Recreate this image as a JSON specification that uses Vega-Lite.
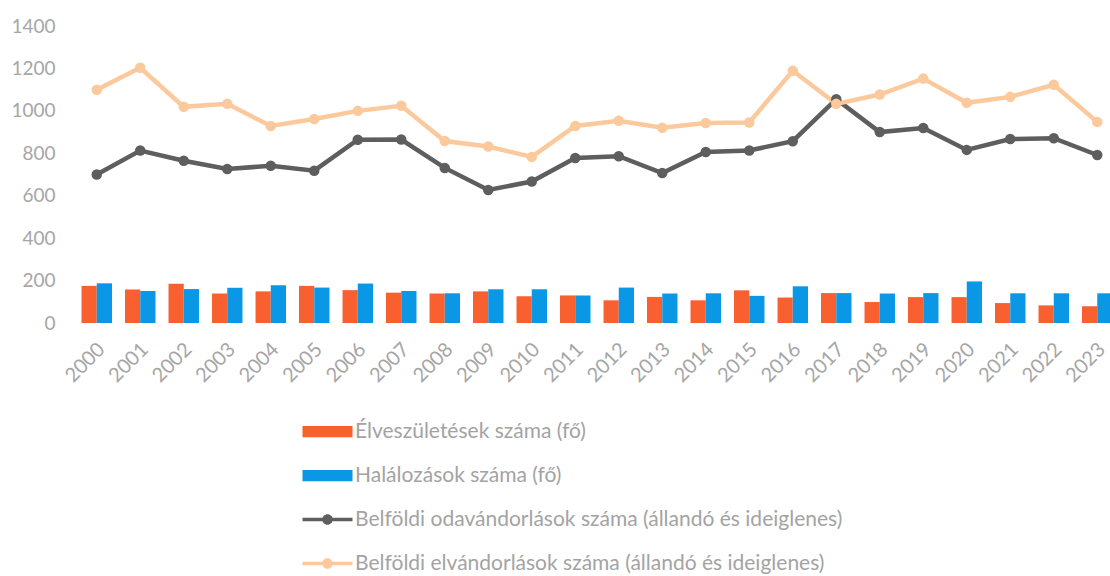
{
  "$schema": "https://vega.github.io/schema/vega-lite/v6.json",
  "autosize": {"type": "none"},
  "padding": {"left": 75, "top": 26, "right": 0, "bottom": 253},
  "width": 1044,
  "height": 297,
  "background": "white",
  "config": {
    "view": {"stroke": null},
    "font": "Lato",
    "axis": {"grid": false, "domain": false, "ticks": false, "labelColor": "#A6A6A6", "labelFont": "Lato", "title": null}
  },
  "datasets": {
    "bars": [
      {"year": "2000", "series": "Élveszületések száma (fő)", "value": 175},
      {"year": "2000", "series": "Halálozások száma (fő)", "value": 187},
      {"year": "2001", "series": "Élveszületések száma (fő)", "value": 158},
      {"year": "2001", "series": "Halálozások száma (fő)", "value": 151},
      {"year": "2002", "series": "Élveszületések száma (fő)", "value": 185},
      {"year": "2002", "series": "Halálozások száma (fő)", "value": 160},
      {"year": "2003", "series": "Élveszületések száma (fő)", "value": 139},
      {"year": "2003", "series": "Halálozások száma (fő)", "value": 166},
      {"year": "2004", "series": "Élveszületések száma (fő)", "value": 149},
      {"year": "2004", "series": "Halálozások száma (fő)", "value": 178},
      {"year": "2005", "series": "Élveszületések száma (fő)", "value": 175},
      {"year": "2005", "series": "Halálozások száma (fő)", "value": 167},
      {"year": "2006", "series": "Élveszületések száma (fő)", "value": 155},
      {"year": "2006", "series": "Halálozások száma (fő)", "value": 186},
      {"year": "2007", "series": "Élveszületések száma (fő)", "value": 143},
      {"year": "2007", "series": "Halálozások száma (fő)", "value": 151},
      {"year": "2008", "series": "Élveszületések száma (fő)", "value": 139},
      {"year": "2008", "series": "Halálozások száma (fő)", "value": 140},
      {"year": "2009", "series": "Élveszületések száma (fő)", "value": 149},
      {"year": "2009", "series": "Halálozások száma (fő)", "value": 159},
      {"year": "2010", "series": "Élveszületések száma (fő)", "value": 126},
      {"year": "2010", "series": "Halálozások száma (fő)", "value": 159},
      {"year": "2011", "series": "Élveszületések száma (fő)", "value": 130},
      {"year": "2011", "series": "Halálozások száma (fő)", "value": 130},
      {"year": "2012", "series": "Élveszületések száma (fő)", "value": 107},
      {"year": "2012", "series": "Halálozások száma (fő)", "value": 167},
      {"year": "2013", "series": "Élveszületések száma (fő)", "value": 123},
      {"year": "2013", "series": "Halálozások száma (fő)", "value": 139},
      {"year": "2014", "series": "Élveszületések száma (fő)", "value": 107},
      {"year": "2014", "series": "Halálozások száma (fő)", "value": 140},
      {"year": "2015", "series": "Élveszületések száma (fő)", "value": 154},
      {"year": "2015", "series": "Halálozások száma (fő)", "value": 128},
      {"year": "2016", "series": "Élveszületések száma (fő)", "value": 120},
      {"year": "2016", "series": "Halálozások száma (fő)", "value": 173},
      {"year": "2017", "series": "Élveszületések száma (fő)", "value": 141},
      {"year": "2017", "series": "Halálozások száma (fő)", "value": 141},
      {"year": "2018", "series": "Élveszületések száma (fő)", "value": 99},
      {"year": "2018", "series": "Halálozások száma (fő)", "value": 139},
      {"year": "2019", "series": "Élveszületések száma (fő)", "value": 122},
      {"year": "2019", "series": "Halálozások száma (fő)", "value": 141},
      {"year": "2020", "series": "Élveszületések száma (fő)", "value": 122},
      {"year": "2020", "series": "Halálozások száma (fő)", "value": 196},
      {"year": "2021", "series": "Élveszületések száma (fő)", "value": 94},
      {"year": "2021", "series": "Halálozások száma (fő)", "value": 140},
      {"year": "2022", "series": "Élveszületések száma (fő)", "value": 83},
      {"year": "2022", "series": "Halálozások száma (fő)", "value": 140},
      {"year": "2023", "series": "Élveszületések száma (fő)", "value": 79},
      {"year": "2023", "series": "Halálozások száma (fő)", "value": 140}
    ],
    "lines": [
      {"year": "2000", "series": "Belföldi odavándorlások száma (állandó és ideiglenes)", "value": 700},
      {"year": "2001", "series": "Belföldi odavándorlások száma (állandó és ideiglenes)", "value": 813},
      {"year": "2002", "series": "Belföldi odavándorlások száma (állandó és ideiglenes)", "value": 765},
      {"year": "2003", "series": "Belföldi odavándorlások száma (állandó és ideiglenes)", "value": 726},
      {"year": "2004", "series": "Belföldi odavándorlások száma (állandó és ideiglenes)", "value": 741},
      {"year": "2005", "series": "Belföldi odavándorlások száma (állandó és ideiglenes)", "value": 718},
      {"year": "2006", "series": "Belföldi odavándorlások száma (állandó és ideiglenes)", "value": 864},
      {"year": "2007", "series": "Belföldi odavándorlások száma (állandó és ideiglenes)", "value": 865},
      {"year": "2008", "series": "Belföldi odavándorlások száma (állandó és ideiglenes)", "value": 731},
      {"year": "2009", "series": "Belföldi odavándorlások száma (állandó és ideiglenes)", "value": 627},
      {"year": "2010", "series": "Belföldi odavándorlások száma (állandó és ideiglenes)", "value": 667},
      {"year": "2011", "series": "Belföldi odavándorlások száma (állandó és ideiglenes)", "value": 778},
      {"year": "2012", "series": "Belföldi odavándorlások száma (állandó és ideiglenes)", "value": 786},
      {"year": "2013", "series": "Belföldi odavándorlások száma (állandó és ideiglenes)", "value": 707},
      {"year": "2014", "series": "Belföldi odavándorlások száma (állandó és ideiglenes)", "value": 806},
      {"year": "2015", "series": "Belföldi odavándorlások száma (állandó és ideiglenes)", "value": 813},
      {"year": "2016", "series": "Belföldi odavándorlások száma (állandó és ideiglenes)", "value": 857},
      {"year": "2017", "series": "Belföldi odavándorlások száma (állandó és ideiglenes)", "value": 1055},
      {"year": "2018", "series": "Belföldi odavándorlások száma (állandó és ideiglenes)", "value": 900},
      {"year": "2019", "series": "Belföldi odavándorlások száma (állandó és ideiglenes)", "value": 919},
      {"year": "2020", "series": "Belföldi odavándorlások száma (állandó és ideiglenes)", "value": 816},
      {"year": "2021", "series": "Belföldi odavándorlások száma (állandó és ideiglenes)", "value": 867},
      {"year": "2022", "series": "Belföldi odavándorlások száma (állandó és ideiglenes)", "value": 871},
      {"year": "2023", "series": "Belföldi odavándorlások száma (állandó és ideiglenes)", "value": 792},
      {"year": "2000", "series": "Belföldi elvándorlások száma (állandó és ideiglenes)", "value": 1099},
      {"year": "2001", "series": "Belföldi elvándorlások száma (állandó és ideiglenes)", "value": 1203},
      {"year": "2002", "series": "Belföldi elvándorlások száma (állandó és ideiglenes)", "value": 1019},
      {"year": "2003", "series": "Belföldi elvándorlások száma (állandó és ideiglenes)", "value": 1033},
      {"year": "2004", "series": "Belföldi elvándorlások száma (állandó és ideiglenes)", "value": 929},
      {"year": "2005", "series": "Belföldi elvándorlások száma (állandó és ideiglenes)", "value": 962},
      {"year": "2006", "series": "Belföldi elvándorlások száma (állandó és ideiglenes)", "value": 1000},
      {"year": "2007", "series": "Belföldi elvándorlások száma (állandó és ideiglenes)", "value": 1024},
      {"year": "2008", "series": "Belföldi elvándorlások száma (állandó és ideiglenes)", "value": 858},
      {"year": "2009", "series": "Belföldi elvándorlások száma (állandó és ideiglenes)", "value": 832},
      {"year": "2010", "series": "Belföldi elvándorlások száma (állandó és ideiglenes)", "value": 783},
      {"year": "2011", "series": "Belföldi elvándorlások száma (állandó és ideiglenes)", "value": 929},
      {"year": "2012", "series": "Belföldi elvándorlások száma (állandó és ideiglenes)", "value": 953},
      {"year": "2013", "series": "Belföldi elvándorlások száma (állandó és ideiglenes)", "value": 920},
      {"year": "2014", "series": "Belföldi elvándorlások száma (állandó és ideiglenes)", "value": 943},
      {"year": "2015", "series": "Belföldi elvándorlások száma (állandó és ideiglenes)", "value": 945},
      {"year": "2016", "series": "Belföldi elvándorlások száma (állandó és ideiglenes)", "value": 1189},
      {"year": "2017", "series": "Belföldi elvándorlások száma (állandó és ideiglenes)", "value": 1033},
      {"year": "2018", "series": "Belföldi elvándorlások száma (állandó és ideiglenes)", "value": 1077},
      {"year": "2019", "series": "Belföldi elvándorlások száma (állandó és ideiglenes)", "value": 1152},
      {"year": "2020", "series": "Belföldi elvándorlások száma (állandó és ideiglenes)", "value": 1038},
      {"year": "2021", "series": "Belföldi elvándorlások száma (állandó és ideiglenes)", "value": 1066},
      {"year": "2022", "series": "Belföldi elvándorlások száma (állandó és ideiglenes)", "value": 1123},
      {"year": "2023", "series": "Belföldi elvándorlások száma (állandó és ideiglenes)", "value": 948}
    ]
  },
  "encoding": {
    "x": {
      "field": "year",
      "type": "ordinal",
      "scale": {"paddingInner": 0.3, "paddingOuter": 0.15},
      "axis": {"labelAngle": -45, "labelAlign": "right", "labelBaseline": "middle", "labelFontSize": 20, "labelOffset": 5, "labelPadding": 23}
    },
    "y": {
      "field": "value",
      "type": "quantitative",
      "scale": {"domain": [0, 1400], "nice": false},
      "axis": {"values": [0, 200, 400, 600, 800, 1000, 1200, 1400], "format": "d", "labelFontSize": 19, "labelPadding": 20}
    }
  },
  "layer": [
    {
      "data": {"name": "bars"},
      "mark": {"type": "bar"},
      "encoding": {
        "xOffset": {"field": "series", "type": "nominal", "sort": ["Élveszületések száma (fő)", "Halálozások száma (fő)"], "scale": {"paddingInner": 0, "paddingOuter": 0}},
        "color": {
          "field": "series",
          "type": "nominal",
          "scale": {
            "domain": ["Élveszületések száma (fő)", "Halálozások száma (fő)", "Belföldi odavándorlások száma (állandó és ideiglenes)", "Belföldi elvándorlások száma (állandó és ideiglenes)"],
            "range": ["#F8602F", "#0A98E6", "#5E5E5E", "#FCC99C"]
          },
          "legend": {
            "orient": "none",
            "legendX": 240,
            "legendY": 393,
            "direction": "vertical",
            "title": null,
            "padding": 0,
            "symbolSize": 625,
            "labelFont": "Lato",
            "labelFontSize": 21,
            "labelColor": "#A3A3A3",
            "labelLimit": 700,
            "labelOffset": 15,
            "rowPadding": 21,
            "encode": {
              "symbols": {
                "update": {
                  "shape": {"signal": "indexof(datum.value, 'Belföldi') === 0 ? 'M-2,-0.14H2V0.14H-2Z M-0.42,0A0.42,0.42 0 1,1 0.42,0A0.42,0.42 0 1,1 -0.42,0Z' : 'M-2,-0.45H2V0.45H-2Z'"},
                  "fill": {"signal": "scale('color', datum.value)"},
                  "stroke": {"value": "transparent"},
                  "strokeWidth": {"value": 0},
                  "opacity": {"value": 1},
                  "fillOpacity": {"value": 1}
                }
              }
            }
          }
        }
      }
    },
    {
      "data": {"name": "lines"},
      "mark": {"type": "line", "strokeWidth": 4.5, "point": {"size": 110, "filled": true, "opacity": 1}},
      "encoding": {
        "color": {"field": "series", "type": "nominal"},
        "order": {"field": "year"},
        "detail": {"field": "series"}
      }
    }
  ]
}
